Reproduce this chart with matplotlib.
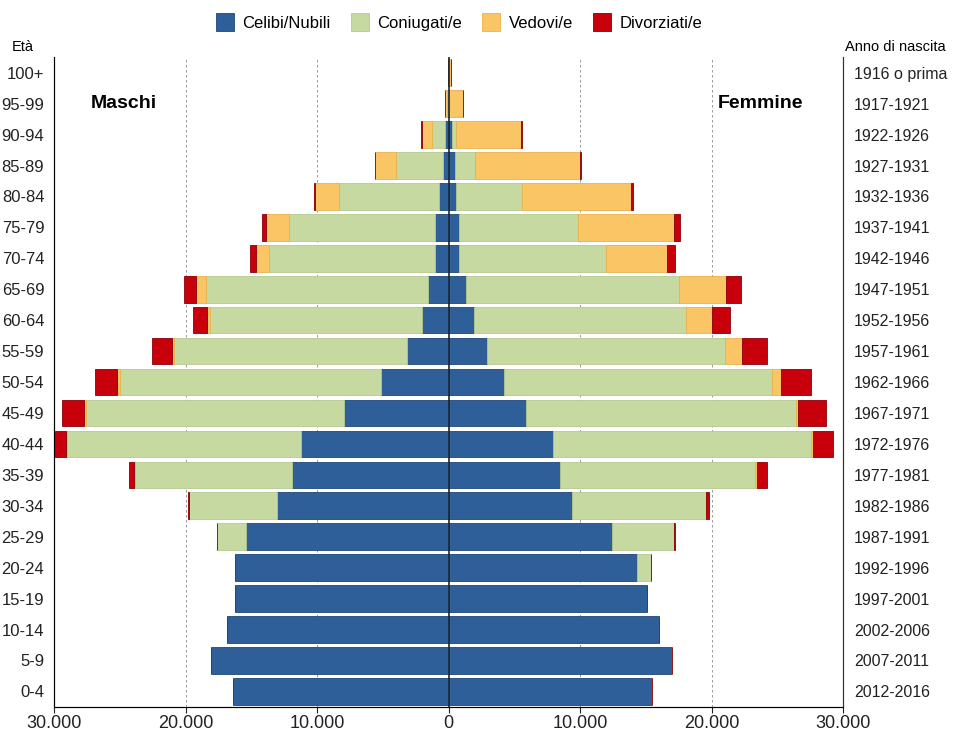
import matplotlib
matplotlib.use("Agg")
from matplotlib import pyplot as plt
from matplotlib.patches import Patch
import numpy as np

plt.rcParams['font.family'] = ['Liberation Sans', 'DejaVu Sans']

# classi di eta' dal basso verso l'alto
ages = ["0-4", "5-9", "10-14", "15-19", "20-24", "25-29", "30-34", "35-39", "40-44",
        "45-49", "50-54", "55-59", "60-64", "65-69", "70-74", "75-79", "80-84",
        "85-89", "90-94", "95-99", "100+"]
birth_years = ["2012-2016", "2007-2011", "2002-2006", "1997-2001", "1992-1996",
               "1987-1991", "1982-1986", "1977-1981", "1972-1976", "1967-1971",
               "1962-1966", "1957-1961", "1952-1956", "1947-1951", "1942-1946",
               "1937-1941", "1932-1936", "1927-1931", "1922-1926", "1917-1921",
               "1916 o prima"]

# maschi
m_celibi = [16360, 18030, 16820, 16210, 16210, 15380, 13030, 11890, 11210, 7950,
            5150, 3180, 2050, 1590, 1060, 1060, 750, 400, 250, 20, 5]
m_coniugati = [0, 0, 0, 20, 60, 2200, 6670, 11970, 17800, 19620,
               19850, 17730, 16060, 16820, 12580, 11060, 7580, 3560, 1000, 80, 5]
m_vedovi = [0, 0, 0, 0, 0, 0, 0, 30, 50, 150,
            230, 150, 230, 830, 980, 1740, 1820, 1600, 800, 200, 20]
m_divorziati = [0, 0, 0, 0, 0, 30, 100, 380, 900, 1670,
                1670, 1520, 1060, 900, 450, 300, 100, 30, 10, 0, 0]

# femmine
f_nubili = [15440, 17030, 15970, 15060, 14300, 12400, 9360, 8440, 7980, 5860,
            4180, 2900, 1900, 1300, 760, 800, 600, 500, 300, 30, 5]
f_coniugate = [0, 0, 0, 0, 1060, 4710, 10190, 14900, 19620, 20530,
               20380, 18100, 16120, 16200, 11250, 9050, 4950, 1500, 250, 30, 5]
f_vedove = [0, 0, 0, 0, 0, 0, 20, 150, 100, 200,
            760, 1290, 1980, 3570, 4640, 7300, 8360, 8000, 4980, 1050, 150]
f_divorziate = [0, 0, 0, 0, 0, 80, 200, 760, 1520, 2130,
                2280, 1900, 1440, 1140, 600, 450, 150, 80, 20, 0, 0]

xticks = [-30000, -20000, -10000, 0, 10000, 20000, 30000]
xtick_labels = ["30.000", "20.000", "10.000", "0", "10.000", "20.000", "30.000"]

colors = ["#2f5f98", "#c6d9a1", "#fac564", "#c8000b"]
edges = ["#1f4677", "#b5c98f", "#e8b04e", "#8a0008"]
names = ["Celibi/Nubili", "Coniugati/e", "Vedovi/e", "Divorziati/e"]

fig = plt.figure(figsize=(9.58, 7.34), dpi=100)
ax = fig.add_axes([0.0564, 0.037, 0.8236, 0.885])

y = np.arange(len(ages))
h = 0.86

male = [m_celibi, m_coniugati, m_vedovi, m_divorziati]
female = [f_nubili, f_coniugate, f_vedove, f_divorziate]

left = np.zeros(len(ages))
for vals, c, e in zip(male, colors, edges):
    v = np.array(vals, dtype=float)
    ax.barh(y, -v, left=-left, height=h, color=c, edgecolor=e, linewidth=0.6, zorder=2)
    left += v

left = np.zeros(len(ages))
for vals, c, e in zip(female, colors, edges):
    v = np.array(vals, dtype=float)
    ax.barh(y, v, left=left, height=h, color=c, edgecolor=e, linewidth=0.6, zorder=2)
    left += v

# griglia tratteggiata e linea dello zero
for gx in [-20000, -10000, 10000, 20000]:
    ax.axvline(gx, color="#8a8a8a", lw=0.6, ls=(0, (3, 3)), zorder=1)
ax.axvline(0, color="#1b2733", lw=1.2, zorder=3)

ax.set_xlim(-30000, 30000)
ax.set_ylim(-0.5, 20.5)
ax.set_xticks(xticks)
ax.set_xticklabels(xtick_labels, fontsize=13)
ax.tick_params(axis="x", length=4, width=0.8, pad=2, colors="#222222")
ax.set_yticks(y)
ax.set_yticklabels(ages, fontsize=12)
ax.tick_params(axis="y", length=0, pad=7, colors="#222222")
ax.spines["top"].set_visible(False)
for s in ["left", "right", "bottom"]:
    ax.spines[s].set_linewidth(0.8)
    ax.spines[s].set_color("#333333")

ax2 = ax.twinx()
ax2.set_ylim(ax.get_ylim())
ax2.set_yticks(y)
ax2.set_yticklabels(birth_years, fontsize=11.5)
ax2.tick_params(axis="y", length=0, pad=8, colors="#222222")
ax2.spines["top"].set_visible(False)
ax2.spines["right"].set_linewidth(0.8)
ax2.spines["right"].set_color("#333333")

ax.text(-27200, 19, "Maschi", fontsize=14, fontweight="bold", va="center", ha="left")
ax.text(20500, 19, "Femmine", fontsize=14, fontweight="bold", va="center", ha="left")

fig.text(0.012, 1 - 47 / 734, "Età", fontsize=10.5, va="center", ha="left")
fig.text(845 / 958, 1 - 47 / 734, "Anno di nascita", fontsize=10.5, va="center", ha="left")

handles = [Patch(facecolor=c, edgecolor=e, linewidth=0.6) for c, e in zip(colors, edges)]
fig.legend(handles, names, loc="center", bbox_to_anchor=(459 / 958, 1 - 22 / 734),
           ncol=4, frameon=False, fontsize=12, handlelength=1.1, handleheight=1.2,
           handletextpad=0.5, columnspacing=1.2)

fig.savefig("out.png", dpi=100, facecolor="white")
plt.close(fig)
